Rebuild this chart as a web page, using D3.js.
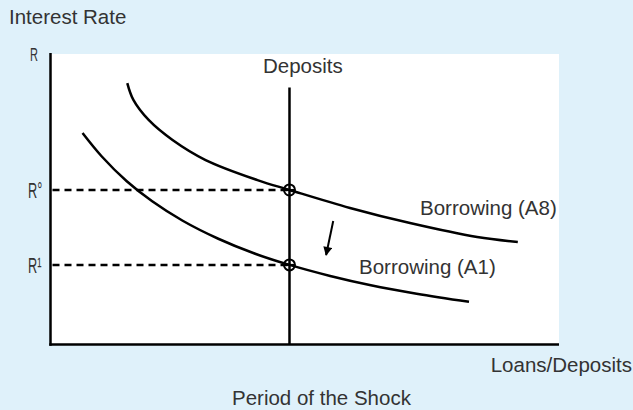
<!DOCTYPE html>
<html>
<head>
<meta charset="utf-8">
<script src="https://cdn.jsdelivr.net/npm/d3@7"></script>
<style>
  html, body { margin: 0; padding: 0; background: #dff1fa; }
  svg text { font-family: "Liberation Sans", Arial, sans-serif; fill: #333; }
</style>
</head>
<body>
<div id="chart"></div>
<script>
// Borrowing curve before the shock (A8)
const loanA8 = [15.1, 16.3, 19.3, 24.0, 30.5, 40.7, 47.0, 58.9, 70.7, 83.9, 91.9];
const rateA8 = [90.0, 84.2, 77.3, 70.4, 63.5, 56.6, 53.2, 47.0, 41.8, 37.0, 35.3];
// Borrowing curve after the shock (A1)
const loanA1 = [6.3, 10, 15, 20, 26, 33, 40, 47.0, 55, 63, 72, 82.3];
const rateA1 = [72.8, 64.9, 56.2, 49.3, 42.6, 36.4, 31.4, 27.4, 23.6, 20.4, 17.5, 14.7];
// deposits (vertical) and the two equilibrium rates
const depositLevel = 47.0;
const depositTop = 88.5;
const rateLevels = [53.2, 27.4];
const rateLabels = ["R°", "R¹"];
// shift arrow: from / to
const arrowLoan = [55.6, 54.2];
const arrowRate = [42.5, 30.8];

const W = 633, H = 410;
const plot = {left: 50.5, right: 559, top: 54, bottom: 344.5};

const svg = d3.select("#chart").append("svg")
    .attr("width", W).attr("height", H);

const x = d3.scaleLinear().domain([0, 100]).range([plot.left, plot.right]);
const y = d3.scaleLinear().domain([0, 100]).range([plot.bottom, plot.top]);

// white plotting area
svg.append("rect")
    .attr("x", plot.left).attr("y", plot.top)
    .attr("width", plot.right - plot.left)
    .attr("height", plot.bottom - plot.top)
    .attr("fill", "#fff");

// axes (plain lines, no ticks)
svg.append("line")
    .attr("x1", plot.left).attr("x2", plot.left)
    .attr("y1", plot.top - 1).attr("y2", plot.bottom + 1.2)
    .attr("stroke", "#000").attr("stroke-width", 2.5);
svg.append("line")
    .attr("x1", plot.left - 1.2).attr("x2", plot.right)
    .attr("y1", plot.bottom).attr("y2", plot.bottom)
    .attr("stroke", "#000").attr("stroke-width", 2.5);

// dashed guides to the rate axis
svg.selectAll(".guide")
    .data(rateLevels)
    .enter().append("line")
    .attr("class", "guide")
    .attr("x1", x(0) + 2).attr("x2", x(depositLevel))
    .attr("y1", d => y(d)).attr("y2", d => y(d))
    .attr("stroke", "#000").attr("stroke-width", 2.5)
    .attr("stroke-dasharray", "7,5");

// deposits line
svg.append("line")
    .attr("x1", x(depositLevel)).attr("x2", x(depositLevel))
    .attr("y1", y(depositTop)).attr("y2", y(0))
    .attr("stroke", "#000").attr("stroke-width", 2.5);

// borrowing curves
const line = d3.line()
    .x(d => x(d[0])).y(d => y(d[1]))
    .curve(d3.curveCatmullRom.alpha(0.5));

[[loanA8, rateA8], [loanA1, rateA1]].forEach(([lx, ly]) => {
    svg.append("path")
        .datum(d3.zip(lx, ly))
        .attr("d", line)
        .attr("fill", "none")
        .attr("stroke", "#000")
        .attr("stroke-width", 2.5);
});

// equilibrium markers (circle with cross)
rateLevels.forEach(r => {
    const cx = x(depositLevel), cy = y(r);
    svg.append("circle")
        .attr("cx", cx).attr("cy", cy).attr("r", 5.5)
        .attr("fill", "none").attr("stroke", "#000").attr("stroke-width", 2);
    svg.append("line")
        .attr("x1", cx - 5.5).attr("x2", cx + 5.5)
        .attr("y1", cy).attr("y2", cy)
        .attr("stroke", "#000").attr("stroke-width", 2);
});

// shift arrow
svg.append("defs").append("marker")
    .attr("id", "head")
    .attr("viewBox", "0 0 10 10")
    .attr("refX", 9).attr("refY", 5)
    .attr("markerWidth", 6).attr("markerHeight", 4.5)
    .attr("markerUnits", "strokeWidth")
    .attr("orient", "auto")
    .append("path")
    .attr("d", "M0,0 L10,5 L0,10 Z")
    .attr("fill", "#000");

svg.append("line")
    .attr("x1", x(arrowLoan[0])).attr("y1", y(arrowRate[0]))
    .attr("x2", x(arrowLoan[1])).attr("y2", y(arrowRate[1]))
    .attr("stroke", "#000").attr("stroke-width", 2)
    .attr("marker-end", "url(#head)");

// text labels
const fs = "20.5px";
svg.append("text").attr("x", 9).attr("y", 23.5).style("font-size", fs).text("Interest Rate");
svg.append("text").attr("x", 263).attr("y", 72.5).style("font-size", fs).text("Deposits");
svg.append("text").attr("x", 420).attr("y", 215).style("font-size", fs).text("Borrowing (A8)");
svg.append("text").attr("x", 359).attr("y", 274).style("font-size", fs).text("Borrowing (A1)");
svg.append("text").attr("x", 632).attr("y", 372)
    .attr("text-anchor", "end").style("font-size", fs).text("Loans/Deposits");
svg.append("text").attr("x", 232).attr("y", 405).style("font-size", fs).text("Period of the Shock");

// narrow "R" labels on the rate axis
function narrowLabel(px, py, txt, size) {
    svg.append("text")
        .attr("transform", `translate(${px},${py}) scale(0.58,1)`)
        .style("font-size", size)
        .text(txt);
}
narrowLabel(30, 60.5, "R", "19px");
rateLevels.forEach((r, i) => narrowLabel(28, y(r) + 8, rateLabels[i], "22px"));
</script>
</body>
</html>
